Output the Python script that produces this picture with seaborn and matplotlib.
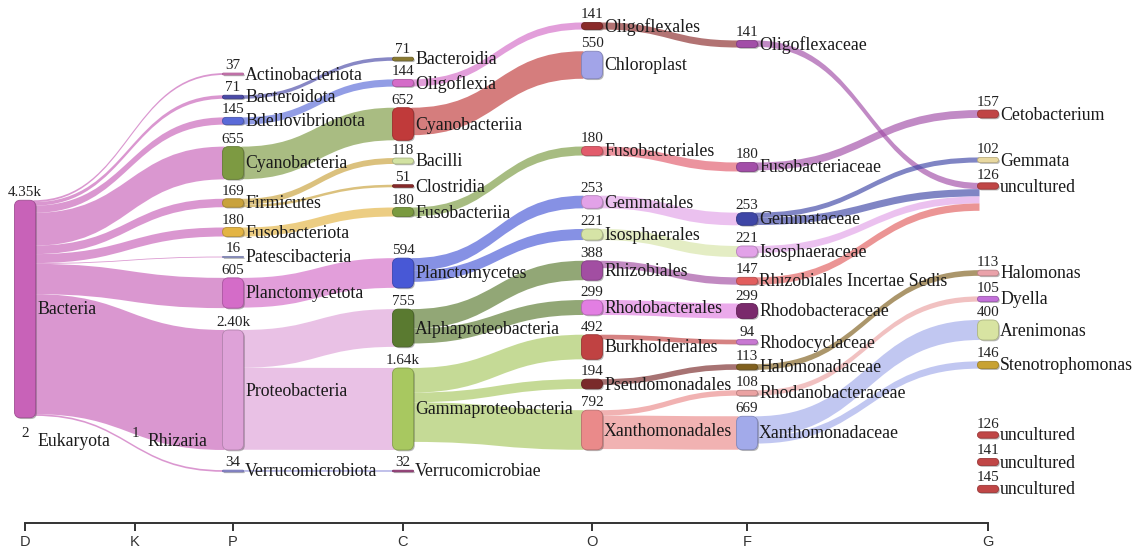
import numpy as np
import matplotlib
matplotlib.use("Agg")
import matplotlib.pyplot as plt
from matplotlib.patches import FancyBboxPatch, PathPatch
from matplotlib.path import Path
from matplotlib.colors import to_rgb
import seaborn as sns

# ---------------- data ----------------
ranks = ["D", "K", "P", "C", "O", "F", "G"]

node_ids = [
    "Bacteria", "Eukaryota",
    "Rhizaria",
    "Actinobacteriota", "Bacteroidota", "Bdellovibrionota", "Cyanobacteria", "Firmicutes",
    "Fusobacteriota", "Patescibacteria", "Planctomycetota", "Proteobacteria", "Verrucomicrobiota",
    "Bacteroidia", "Oligoflexia", "Cyanobacteriia", "Bacilli", "Clostridia", "Fusobacteriia",
    "Planctomycetes", "Alphaproteobacteria", "Gammaproteobacteria", "Verrucomicrobiae",
    "Oligoflexales", "Chloroplast", "Fusobacteriales", "Gemmatales", "Isosphaerales",
    "Rhizobiales", "Rhodobacterales", "Burkholderiales", "Pseudomonadales", "Xanthomonadales",
    "Oligoflexaceae", "Fusobacteriaceae", "Gemmataceae", "Isosphaeraceae",
    "Rhizobiales Incertae Sedis", "Rhodobacteraceae", "Rhodocyclaceae", "Halomonadaceae",
    "Rhodanobacteraceae", "Xanthomonadaceae",
    "Cetobacterium", "Gemmata", "uncultured_1", "Halomonas", "Dyella", "Arenimonas",
    "Stenotrophomonas", "uncultured_2", "uncultured_3", "uncultured_4",
]
node_labels = [n.split("_")[0] for n in node_ids]
node_values = [
    4350, 2,
    1,
    37, 71, 145, 655, 169, 180, 16, 605, 2400, 34,
    71, 144, 652, 118, 51, 180, 594, 755, 1640, 32,
    141, 550, 180, 253, 221, 388, 299, 492, 194, 792,
    141, 180, 253, 221, 147, 299, 94, 113, 108, 669,
    157, 102, 126, 113, 105, 400, 146, 126, 141, 145,
]
node_value_text = {"Bacteria": "4.35k", "Proteobacteria": "2.40k", "Gammaproteobacteria": "1.64k"}
node_ranks = (["D"] * 2 + ["K"] + ["P"] * 10 + ["C"] * 10 + ["O"] * 10 + ["F"] * 10 + ["G"] * 11)

node_colors = [
    "#c862b8", "#c862b8",
    "#b07ab0",
    "#d478b8", "#4a4aa8", "#5a6ad8", "#7d9a42", "#c9a23c", "#e3b443", "#9aa0d8", "#d46cc8",
    "#dea2d8", "#8c8cd8",
    "#8a7a30", "#d46cc8", "#c03a3a", "#d2e2a2", "#8a2a2a", "#7a9a40", "#4858d6", "#5a7a30",
    "#a8c860", "#a04080",
    "#8a2a2a", "#a2a4e8", "#e25c6c", "#e2a2e8", "#d6e4a6", "#a24ea2", "#e27ee2", "#c04242",
    "#7a2a2a", "#ea8a8a",
    "#a24ea8", "#a24ea8", "#3e46a6", "#e2a2e8", "#e25e5e", "#7a2a6c", "#c878d2", "#80601e",
    "#eaa2a2", "#a2aaea",
    "#c04444", "#e8d8a0", "#c04646", "#eaa2aa", "#c270d8", "#d8e4a2", "#c8a232",
    "#c04646", "#c04646", "#c04646",
]

link_sources = [
    "Bacteria", "Bacteria", "Bacteria", "Bacteria", "Bacteria", "Bacteria", "Bacteria",
    "Bacteria", "Bacteria", "Bacteria", "Eukaryota",
    "Bacteroidota", "Bdellovibrionota", "Cyanobacteria", "Firmicutes", "Firmicutes",
    "Fusobacteriota", "Planctomycetota", "Proteobacteria", "Proteobacteria", "Verrucomicrobiota",
    "Oligoflexia", "Cyanobacteriia", "Fusobacteriia", "Planctomycetes", "Planctomycetes",
    "Alphaproteobacteria", "Alphaproteobacteria", "Gammaproteobacteria", "Gammaproteobacteria",
    "Gammaproteobacteria",
    "Oligoflexales", "Fusobacteriales", "Gemmatales", "Isosphaerales", "Rhizobiales",
    "Rhodobacterales", "Burkholderiales", "Pseudomonadales", "Xanthomonadales", "Xanthomonadales",
    "Oligoflexaceae", "Fusobacteriaceae", "Gemmataceae", "Gemmataceae", "Isosphaeraceae",
    "Rhizobiales Incertae Sedis", "Halomonadaceae", "Rhodanobacteraceae", "Xanthomonadaceae",
    "Xanthomonadaceae",
]
link_targets = [
    "Actinobacteriota", "Bacteroidota", "Bdellovibrionota", "Cyanobacteria", "Firmicutes",
    "Fusobacteriota", "Patescibacteria", "Planctomycetota", "Proteobacteria", "Verrucomicrobiota",
    "Rhizaria",
    "Bacteroidia", "Oligoflexia", "Cyanobacteriia", "Bacilli", "Clostridia",
    "Fusobacteriia", "Planctomycetes", "Alphaproteobacteria", "Gammaproteobacteria", "Verrucomicrobiae",
    "Oligoflexales", "Chloroplast", "Fusobacteriales", "Gemmatales", "Isosphaerales",
    "Rhizobiales", "Rhodobacterales", "Burkholderiales", "Pseudomonadales", "Xanthomonadales",
    "Oligoflexaceae", "Fusobacteriaceae", "Gemmataceae", "Isosphaeraceae", "Rhizobiales Incertae Sedis",
    "Rhodobacteraceae", "Rhodocyclaceae", "Halomonadaceae", "Rhodanobacteraceae", "Xanthomonadaceae",
    "uncultured_1", "Cetobacterium", "Gemmata", "uncultured_1", "uncultured_1",
    "uncultured_1", "Halomonas", "Dyella", "Arenimonas", "Stenotrophomonas",
]
link_values = [
    37, 71, 145, 655, 169, 180, 16, 605, 2400, 34, 1,
    71, 144, 652, 118, 51, 180, 594, 755, 1640, 32,
    141, 550, 180, 253, 221, 388, 299, 492, 194, 792,
    141, 180, 253, 221, 147, 299, 94, 113, 108, 669,
    126, 157, 102, 145, 141, 147, 113, 105, 400, 146,
]

# ---------------- layout (pixel space of the 1136x550 canvas) ----------------
rank_x = {"D": 25, "K": 135, "P": 233, "C": 403, "O": 592, "F": 747, "G": 988}
node_center_y = [
    309, 441,
    441,
    74, 97, 121, 163, 203, 232, 257, 293, 390, 471,
    59, 83, 124, 161, 186, 212, 273, 328, 409, 471,
    26, 65, 151, 202, 234.5, 270.5, 307.5, 347, 384, 430,
    44, 167, 219, 251.5, 281, 311, 342, 367, 393, 433,
    114, 160, 186, 273, 299, 330, 365, 435, 462, 489,
]
PX_PER_UNIT = 0.05
NODE_W = 21

# ---------------- style ----------------
sns.set_theme(style="white")
plt.rcParams["font.family"] = ["Liberation Serif", "DejaVu Serif"]

fig = plt.figure(figsize=(11.36, 5.5), dpi=100)
ax = fig.add_axes([0, 0, 1, 1])
ax.set_xlim(0, 1136)
ax.set_ylim(550, 0)

idx = {n: i for i, n in enumerate(node_ids)}
heights = [v * PX_PER_UNIT for v in node_values]
tops = [c - h / 2 for c, h in zip(node_center_y, heights)]
lefts = [rank_x[r] - NODE_W / 2 for r in node_ranks]


def darker(c, f=0.6):
    r, g, b = to_rgb(c)
    return (r * f, g * f, b * f)


# link stacking
out_off = {n: 0.0 for n in node_ids}
in_off = {n: 0.0 for n in node_ids}
order_src = sorted(range(len(link_values)),
                   key=lambda k: (idx[link_sources[k]], node_center_y[idx[link_targets[k]]]))
src_pos = {}
for k in order_src:
    s = link_sources[k]
    w = link_values[k] * PX_PER_UNIT
    src_pos[k] = tops[idx[s]] + out_off[s]
    out_off[s] += w
order_tgt = sorted(range(len(link_values)),
                   key=lambda k: (idx[link_targets[k]], node_center_y[idx[link_sources[k]]]))
tgt_pos = {}
for k in order_tgt:
    t = link_targets[k]
    w = link_values[k] * PX_PER_UNIT
    tgt_pos[k] = tops[idx[t]] + in_off[t]
    in_off[t] += w

for k in range(len(link_values)):
    si, ti = idx[link_sources[k]], idx[link_targets[k]]
    w = link_values[k] * PX_PER_UNIT
    if w < 0.5:
        alpha = 0.0
    else:
        alpha = 0.66
    w = max(w, 0.8)
    x0 = lefts[si] + NODE_W - 2
    x1 = lefts[ti] + 2
    xm = (x0 + x1) / 2
    y0a, y1a = src_pos[k], tgt_pos[k]
    y0b, y1b = y0a + w, y1a + w
    verts = [(x0, y0a), (xm, y0a), (xm, y1a), (x1, y1a), (x1, y1b),
             (xm, y1b), (xm, y0b), (x0, y0b), (x0, y0a)]
    codes = [Path.MOVETO, Path.CURVE4, Path.CURVE4, Path.CURVE4, Path.LINETO,
             Path.CURVE4, Path.CURVE4, Path.CURVE4, Path.CLOSEPOLY]
    ax.add_patch(PathPatch(Path(verts, codes), facecolor=node_colors[si], alpha=alpha,
                           edgecolor="none", zorder=1))

# nodes
for i, n in enumerate(node_ids):
    h = heights[i]
    if h >= 0.5:
        h = max(h, 1.2)
        top = node_center_y[i] - h / 2
        r = min(6, h / 2, NODE_W / 2)
        bs = f"round,pad=0,rounding_size={r}"
        ax.add_patch(FancyBboxPatch((lefts[i] + 1.3, top + 1.3), NODE_W, h, boxstyle=bs,
                                    facecolor="#333333", alpha=0.35, edgecolor="none", zorder=2))
        ax.add_patch(FancyBboxPatch((lefts[i], top), NODE_W, h, boxstyle=bs,
                                    facecolor=node_colors[i], edgecolor=darker(node_colors[i], 0.8),
                                    linewidth=0.6, zorder=3))
    else:
        top = node_center_y[i] - h / 2
    vt = node_value_text.get(n, str(node_values[i]))
    ax.text(rank_x[node_ranks[i]], top - 1, vt, ha="center", va="bottom", fontsize=10.9,
            color="#222222", zorder=5)
    ax.text(lefts[i] + NODE_W + 1.5, node_center_y[i] + 1, node_labels[i], ha="left",
            va="center", fontsize=12.8, color="#1a1a1a", zorder=5)

# axis
for s in ["left", "right", "top"]:
    ax.spines[s].set_visible(False)
ax.spines["bottom"].set_position(("data", 523))
ax.spines["bottom"].set_bounds(rank_x["D"], rank_x["G"])
ax.spines["bottom"].set_color("#333333")
ax.spines["bottom"].set_linewidth(1.4)
ax.set_xticks([rank_x[r] for r in ranks])
ax.set_xticklabels(ranks, fontfamily=["Liberation Sans", "DejaVu Sans"], fontsize=10.5, color="#333333")
ax.tick_params(axis="x", direction="out", length=6, width=1.4, color="#333333", pad=3, bottom=True)
ax.set_yticks([])
ax.grid(False)
ax.set_facecolor("white")

fig.savefig("out.png", dpi=100, facecolor="white")
